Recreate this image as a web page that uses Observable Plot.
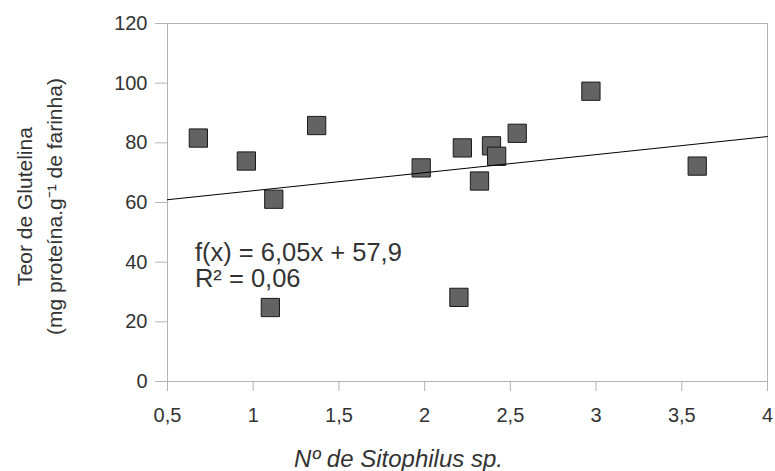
<!DOCTYPE html>
<html>
<head>
<meta charset="utf-8">
<script src="https://cdn.jsdelivr.net/npm/d3@7"></script>
<script src="https://cdn.jsdelivr.net/npm/@observablehq/plot@0.6"></script>
<style>
  html, body { margin: 0; padding: 0; background: #fff; }
  svg { display: block; }
</style>
</head>
<body>
<div id="chart"></div>
<script>
// Data
const insects = [0.68, 0.96, 1.12, 1.37, 1.98, 2.22, 1.10, 2.20, 2.39, 2.42, 2.54, 2.32, 2.97, 3.59];
const glutelin = [81.6, 73.9, 61.1, 85.8, 71.6, 78.3, 24.8, 28.2, 79.0, 75.5, 83.2, 67.2, 97.3, 72.2];
const xTicks = [0.5, 1, 1.5, 2, 2.5, 3, 3.5, 4];
const yTicks = [0, 20, 40, 60, 80, 100, 120];
const slope = 6.05;
const intercept = 57.9;
const equationText = "f(x) = 6,05x + 57,9\nR² = 0,06";
const equationAnchor = {x: 0.66, y: 31.7};
const xLabel = "Nº de Sitophilus sp.";
const yLabel = "Teor de Glutelina\n(mg proteína.g⁻¹ de farinha)";

const points = insects.map((x, i) => ({x, y: glutelin[i]}));
const trend = [xTicks[0], xTicks[xTicks.length - 1]].map(x => ({x, y: slope * x + intercept}));
const comma = d => String(d).replace(".", ",");

const font = "'Liberation Sans', Arial, Helvetica, sans-serif";
const textColor = "#333333";
const gridGrey = "#b3b3b3";

const chart = Plot.plot({
  width: 775,
  height: 471,
  marginLeft: 167,
  marginRight: 8,
  marginTop: 23,
  marginBottom: 90,
  style: {fontFamily: font, fontSize: "20px", color: textColor, background: "#fff"},
  x: {domain: [0.5, 4]},
  y: {domain: [0, 120]},
  marks: [
    Plot.frame({stroke: gridGrey}),
    Plot.axisX({ticks: xTicks, tickFormat: comma, tickSize: 10, tickPadding: 16, stroke: gridGrey, fill: textColor, fontSize: 20, label: null}),
    Plot.axisY({ticks: yTicks, tickSize: 12, tickPadding: 8, stroke: gridGrey, fill: textColor, fontSize: 20, label: null}),
    Plot.dot(points, {x: "x", y: "y", symbol: "square", r: 10.3, fill: "#636363", stroke: "#1a1a1a", strokeWidth: 1}),
    Plot.line(trend, {x: "x", y: "y", stroke: "#000", strokeWidth: 1}),
    Plot.text([equationText], {x: () => equationAnchor.x, y: () => equationAnchor.y, text: d => d, textAnchor: "start", lineAnchor: "bottom", lineHeight: 1.0, fontSize: 25.5, fill: textColor}),
    Plot.text([xLabel], {frameAnchor: "bottom", text: d => d, dx: -69, dy: 85, fontSize: 24, fontStyle: "italic", fill: textColor}),
    Plot.text([yLabel], {frameAnchor: "left", text: d => d, rotate: -90, textAnchor: "middle", dx: -130, dy: 4, lineAnchor: "middle", lineHeight: 1.45, fontSize: 21, fill: textColor})
  ]
});
document.getElementById("chart").appendChild(chart);
</script>
</body>
</html>
